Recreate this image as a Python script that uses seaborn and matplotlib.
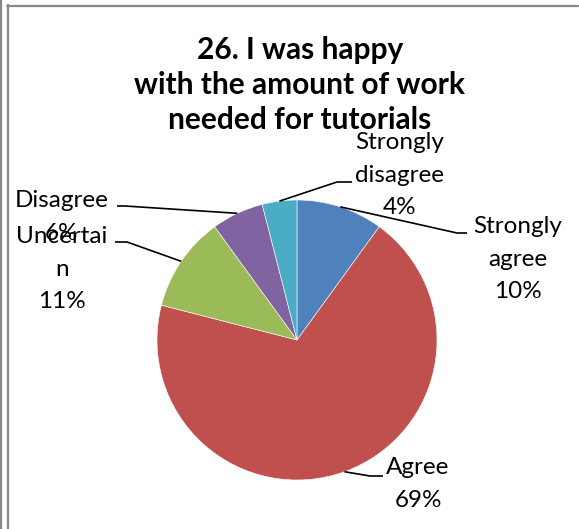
import matplotlib
matplotlib.use("Agg")
import matplotlib.pyplot as plt
import seaborn as sns
import numpy as np

# ---- data ----
categories = ["Strongly agree", "Agree", "Uncertain", "Disagree", "Strongly disagree"]
values = [10, 69, 11, 6, 4]
label_texts = ["Strongly\nagree\n10%", "Agree\n69%", "Uncertai\nn\n11%", "Disagree\n6%", "Strongly\ndisagree\n4%"]
title = "26. I was happy\nwith the amount of work\nneeded for tutorials"

sns.set_style("white")
plt.rcParams['font.family'] = ['Lato', 'DejaVu Sans']
colors = sns.color_palette(["#4F81BD", "#C0504D", "#9BBB59", "#8064A2", "#4BACC6"])

W, H = 579, 529
fig = plt.figure(figsize=(W / 100, H / 100), dpi=100)
ax = fig.add_axes([0, 0, 1, 1])

def Y(y):
    return H - y

cx, cy, R = 297, 340, 140
wedges, _ = ax.pie(values, colors=colors, startangle=90, counterclock=False,
                   center=(cx, Y(cy)), radius=R,
                   wedgeprops=dict(edgecolor="white", linewidth=0.4))
ax.set_xlim(0, W)
ax.set_ylim(0, H)
ax.set_aspect("equal")
ax.axis("off")

# label layout: (elbow x, elbow y, end x, text x, text y) in pixels
layout = [
    (457, 233, 467, 518, 259),
    (370, 476, 383, 418, 484),
    (127, 242, 115, 62, 269),
    (125, 206, 117, 62, 217),
    (337, 182, 352, 400, 175),
]
for w, txt, (ex, ey, endx, tx, ty) in zip(wedges, label_texts, layout):
    mid = np.deg2rad((w.theta1 + w.theta2) / 2)
    ax_, ay_ = w.center[0] + R * np.cos(mid), w.center[1] + R * np.sin(mid)
    ax.plot([ax_, ex, endx], [ay_, Y(ey), Y(ey)], color="black", lw=1.2,
            solid_capstyle="butt")
    ax.text(tx, Y(ty), txt, ha="center", va="center", fontsize=17.5,
            linespacing=1.68, color="black")

ax.text(300, Y(85), title, ha="center", va="center", fontsize=21.5,
        fontweight="bold", linespacing=1.3, color="black")

# frame lines
gc = "#888888"
fig.add_artist(plt.Line2D([0.8, 0.8], [0, H], transform=None, color=gc, lw=1.6))
fig.add_artist(plt.Line2D([7.5, 7.5], [0, H - 5], transform=None, color=gc, lw=1.6))
fig.add_artist(plt.Line2D([7, 578], [H - 5.5, H - 5.5], transform=None, color=gc, lw=1.6))

fig.savefig("out.png", dpi=100)
